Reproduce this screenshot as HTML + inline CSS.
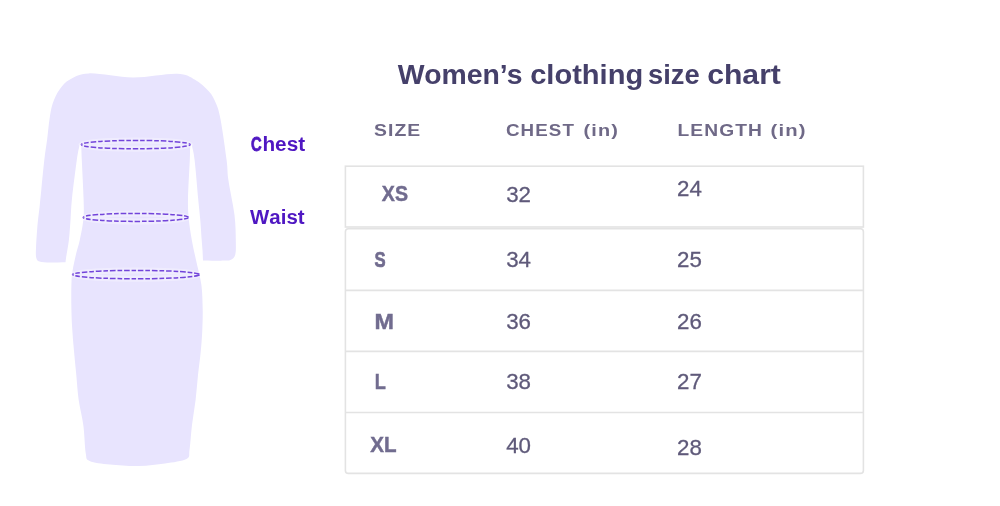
<!DOCTYPE html>
<html><head><meta charset="utf-8">
<style>
html,body{margin:0;padding:0;background:#fff;}
body{width:1000px;height:506px;overflow:hidden;position:relative;font-family:"Liberation Sans",sans-serif;}
svg{position:absolute;left:0;top:0;will-change:transform;}
</style></head><body>
<svg width="1000" height="506" viewBox="0 0 1000 506" font-family="Liberation Sans, sans-serif">
<path d="M89,73.4 C99.6,73 118.3,77.4 133,77.5 C147.7,77.6 166.7,73.4 177,73.8 C187.3,74.2 189.7,76.8 195,79.8 C200.3,82.8 205.5,87.6 209,91.6 C212.5,95.5 214.1,98.9 216,103.5 C217.9,108.1 218.7,109.9 220.5,119.3 C222.3,128.7 225.3,149.9 226.6,160 C227.9,170.1 227.1,170.8 228.4,180 C229.7,189.2 233.3,205 234.5,215 C235.7,225 235.7,233.4 235.8,240 C235.9,246.6 236.1,251.2 235.3,254.5 C234.5,257.8 232.9,258.8 231,259.8 C229.1,260.8 228.7,260.5 224,260.6 C219.3,260.7 210,260.5 203,260.4 C202.8,256.9 202.7,253.4 202.5,250 C202.3,246.6 202.1,245.2 201.7,240 C201.3,234.8 200.8,225.8 200.2,219 C199.6,212.2 199.1,208.8 198.2,199 C197.3,189.2 195.7,169.2 194.6,160 C193.5,150.8 192.6,149.3 191.6,144 C191.1,145.3 190.5,145.3 190.2,148 C189.9,150.7 190.2,151.5 189.8,160 C189.4,168.5 188.2,189.2 188,199 C187.8,208.8 188.2,212.2 188.8,219 C189.4,225.8 190.6,233.2 191.8,240 C193,246.8 194.4,252.5 196,260 C197.6,267.5 200.3,276.7 201.4,285 C202.5,293.3 202.5,302.5 202.7,310 C202.8,317.5 202.6,323.2 202.3,330 C202,336.8 201.5,343.5 200.8,351 C200.1,358.5 198.9,366.8 198,375 C197.1,383.2 196.6,391.7 195.6,400 C194.6,408.3 193,416.7 192,425 C191,433.3 190.4,444.3 189.5,450 C188.6,455.7 190.6,456.8 186.5,459 C182.4,461.2 172.9,462.3 165,463.5 C157.1,464.7 148.2,465.8 139,466 C129.8,466.2 118.2,465.3 110,464.5 C101.8,463.7 93.6,462.9 89.6,461 C85.5,459.1 86.8,459 85.7,453 C84.7,447 84.5,433.8 83.3,425 C82.1,416.2 79.9,408.3 78.7,400 C77.5,391.7 77.1,383.2 76.3,375 C75.5,366.8 74.7,359 74,351 C73.3,343 72.5,335 72.1,327 C71.6,319 71.4,310.5 71.3,303 C71.2,295.5 71.3,287.5 71.5,282 C71.7,276.5 71.9,274.8 72.7,270 C73.5,265.2 75.1,258 76.3,253 C77.5,248 78.6,245.7 79.8,240 C81,234.3 82.8,225.8 83.4,219 C84,212.2 83.9,209.2 83.6,199.4 C83.3,189.6 82.2,168.7 81.8,160 C81.4,151.3 81.5,149.8 81.2,147 C80.9,144.2 80.4,144.3 80,143 C78.9,148.7 78.1,150.6 76.8,160 C75.5,169.4 72.9,189.6 71.9,199.4 C70.9,209.2 71.1,212.2 70.6,219 C70.1,225.8 69.6,234 68.9,240 C68.2,246 67.1,251.3 66.5,255 C65.9,258.7 65.8,259.9 65.5,262.3 C60.3,262.4 54.3,262.7 50,262.6 C45.7,262.5 41.8,262.3 39.5,261.5 C37.2,260.7 36.9,260.2 36.3,258 C35.7,255.8 35.8,253.5 36,248 C36.2,242.5 36.9,232.2 37.5,225 C38.1,217.8 39.2,210.8 39.8,205 C40.4,199.2 40.5,197.5 41.3,190 C42,182.5 43.3,168.5 44.3,160 C45.3,151.5 46.3,145.8 47.2,139 C48.1,132.2 48.6,125.2 49.5,119.3 C50.4,113.4 51,108.5 52.7,103.5 C54.4,98.5 56.8,93.5 59.6,89.6 C62.4,85.6 64.6,82.5 69.5,79.8 C74.4,77.1 78.4,73.8 89,73.4Z" fill="#e8e4fe"/>
<g fill="none" stroke="#fff" stroke-opacity="0.3" stroke-width="6">
<ellipse cx="135.8" cy="144.6" rx="54.5" ry="4.2"/>
<ellipse cx="135.75" cy="217.4" rx="52.6" ry="4"/>
<ellipse cx="136" cy="274.6" rx="63.5" ry="4.2"/>
</g>
<g fill="none" stroke="#7244da" stroke-width="1.5" stroke-dasharray="5.6 1.9 4.6 1.9" stroke-dashoffset="4.1">
<path d="M81.30,144.6A54.5,4.2 0 0 1 190.30,144.6"/><path d="M81.30,144.6A54.5,4.2 0 0 0 190.30,144.6"/>
<path d="M83.15,217.4A52.6,4 0 0 1 188.35,217.4"/><path d="M83.15,217.4A52.6,4 0 0 0 188.35,217.4"/>
<path d="M72.50,274.6A63.5,4.2 0 0 1 199.50,274.6"/><path d="M72.50,274.6A63.5,4.2 0 0 0 199.50,274.6"/>
</g>
<g font-weight="bold" fill="#4f17c2" font-size="20">
<text x="250.93" y="151.0" textLength="10.68" lengthAdjust="spacingAndGlyphs" stroke="#4f17c2" stroke-width="0.8">C</text><text x="262.45" y="151.0" textLength="42.68" lengthAdjust="spacingAndGlyphs">hest</text>
<text x="250.04" y="224.4" textLength="19.24" lengthAdjust="spacingAndGlyphs">W</text><text x="269.34" y="224.4" textLength="35.25" lengthAdjust="spacingAndGlyphs">aist</text>
</g>
<g font-size="28" font-weight="bold" fill="#45406a"><text x="397.86" y="84.35" textLength="124.61" lengthAdjust="spacingAndGlyphs">Women’s</text><text x="530.15" y="84.35" textLength="113.00" lengthAdjust="spacingAndGlyphs">clothing</text><text x="648.08" y="84.35" textLength="51.61" lengthAdjust="spacingAndGlyphs">size</text><text x="707.19" y="84.35" textLength="73.71" lengthAdjust="spacingAndGlyphs">chart</text></g>
<g font-weight="bold" fill="#6f6987" font-size="17.4" letter-spacing="1">
<text x="373.90" y="135.8" textLength="47.47" lengthAdjust="spacingAndGlyphs">SIZE</text>
<text x="505.99" y="135.8" textLength="69.04" lengthAdjust="spacingAndGlyphs">CHEST</text>
<text x="583.56" y="135.8" textLength="35.47" lengthAdjust="spacingAndGlyphs">(in)</text>
<text x="677.49" y="135.8" textLength="85.56" lengthAdjust="spacingAndGlyphs">LENGTH</text>
<text x="770.64" y="135.8" textLength="36.15" lengthAdjust="spacingAndGlyphs">(in)</text>
</g>
<g fill="none" stroke="#e3e3e3" stroke-width="1.6">
<rect x="345.4" y="166.2" width="518" height="60.8"/>
<rect x="345.4" y="228.8" width="518" height="244.6" rx="3"/>
<line x1="345.4" y1="290.4" x2="863.4" y2="290.4"/>
<line x1="345.4" y1="351.4" x2="863.4" y2="351.4"/>
<line x1="345.4" y1="412.5" x2="863.4" y2="412.5"/>
</g>
<g font-weight="bold" fill="#716c8f" font-size="22.5" stroke="#716c8f" stroke-width="0.45">
<text x="381.85" y="200.7" textLength="26.17" lengthAdjust="spacingAndGlyphs">XS</text>
<text x="374.57" y="266.9" textLength="11.13" lengthAdjust="spacingAndGlyphs" stroke-width="0.7">S</text>
<text x="374.41" y="328.9" textLength="19.43" lengthAdjust="spacingAndGlyphs">M</text>
<text x="374.84" y="389.0" textLength="11.10" lengthAdjust="spacingAndGlyphs">L</text>
<text x="370.21" y="452.2" textLength="26.32" lengthAdjust="spacingAndGlyphs">XL</text>
</g>
<g fill="#5f5a7a" font-size="22.3" stroke="#5f5a7a" stroke-width="0.3">
<text x="506.20" y="202.4">32</text>
<text x="677.00" y="196.1">24</text>
<text x="506.20" y="267.05">34</text>
<text x="677.00" y="267.05">25</text>
<text x="506.20" y="328.7">36</text>
<text x="677.00" y="328.7">26</text>
<text x="506.20" y="389.4">38</text>
<text x="677.00" y="389.4">27</text>
<text x="506.20" y="452.5">40</text>
<text x="677.00" y="455.05">28</text>
</g>
</svg>
</body></html>
